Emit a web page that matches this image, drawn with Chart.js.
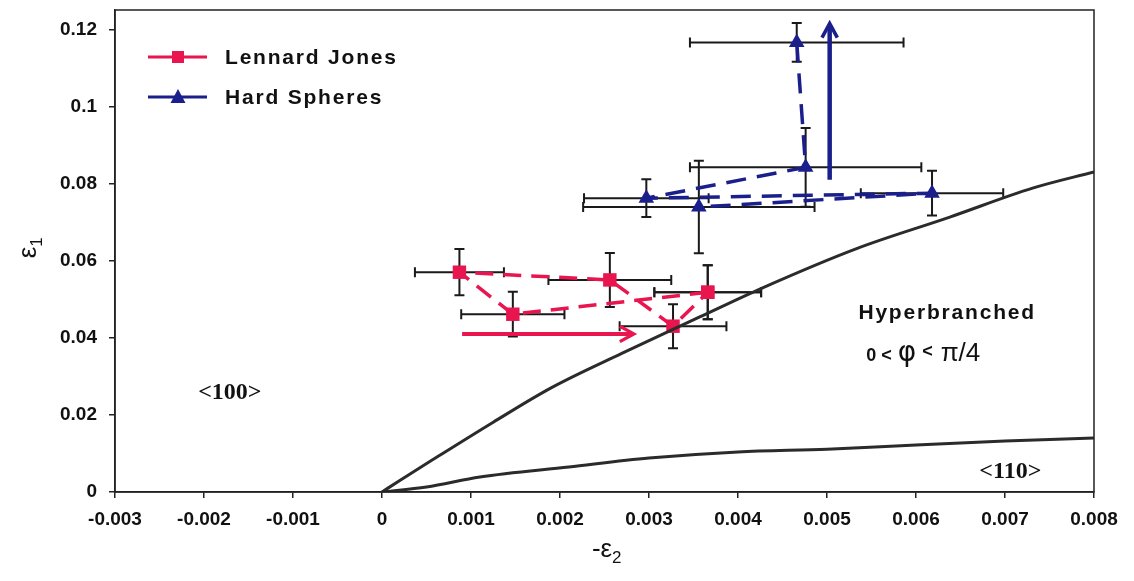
<!DOCTYPE html>
<html>
<head>
<meta charset="utf-8">
<script src="https://cdn.jsdelivr.net/npm/chart.js@4/dist/chart.umd.min.js"></script>
<style>
  html, body { margin: 0; padding: 0; background: #fff; }
  #wrap { width: 1134px; height: 581px; }
</style>
</head>
<body>
<div id="wrap"><canvas id="chart" width="1134" height="581"></canvas></div>
<script>
// Lennard Jones points, listed in the order the dashed line joins them (closed loop)
const ljX = [0.00366, 0.00147, 0.00087, 0.00256, 0.00327, 0.00366];
const ljY = [0.0518, 0.0461, 0.0570, 0.0550, 0.0430, 0.0518];
const ljErrX = [0.0006, 0.00058, 0.0005, 0.00069, 0.0006, 0.0006];
const ljErrY = [0.007, 0.0058, 0.006, 0.007, 0.0057, 0.007];

// Hard Spheres points, in line order
const hsX = [0.00466, 0.00476, 0.00297, 0.00618, 0.00356];
const hsY = [0.1166, 0.0842, 0.0762, 0.0775, 0.0739];
const hsErrX = [0.0012, 0.0013, 0.0007, 0.0008, 0.0013];
const hsErrY = [0.005, 0.0102, 0.0049, 0.0058, 0.012];

// boundary curves
const upperX = [0, 0.0002, 0.0006, 0.00125, 0.0019, 0.0027, 0.00357, 0.00427, 0.00534, 0.00638, 0.00731, 0.008];
const upperY = [0, 0.003, 0.0088, 0.0181, 0.027, 0.036, 0.0454, 0.0529, 0.0632, 0.0713, 0.0788, 0.083];
const lowerX = [0, 0.0005, 0.0011, 0.0021, 0.003, 0.004, 0.005, 0.006, 0.007, 0.008];
const lowerY = [0, 0.0013, 0.0039, 0.0065, 0.0088, 0.0104, 0.0111, 0.0122, 0.0132, 0.014];

// arrows [from, to]
const redArrowX = [0.0009, 0.00283];
const redArrowY = [0.041, 0.041];
const blueArrowX = [0.00503, 0.00503];
const blueArrowY = [0.081, 0.1215];

const xTicks = [-0.003, -0.002, -0.001, 0, 0.001, 0.002, 0.003, 0.004, 0.005, 0.006, 0.007, 0.008];

const RED = '#E8154F';
const BLUE = '#1B1F8C';
const CURVE = '#2b2b2b';

function pts(xs, ys) {
  return xs.map((x, i) => ({ x: x, y: ys[i] }));
}

const errorBars = {
  id: 'errorBars',
  beforeDatasetsDraw(chart) {
    const ctx = chart.ctx;
    const sx = chart.scales.x, sy = chart.scales.y;
    const sets = [[ljX, ljY, ljErrX, ljErrY], [hsX, hsY, hsErrX, hsErrY]];
    ctx.save();
    ctx.strokeStyle = '#1a1a1a';
    ctx.lineWidth = 2;
    sets.forEach(([xs, ys, ex, ey]) => {
      xs.forEach((x, i) => {
        const px = sx.getPixelForValue(x), py = sy.getPixelForValue(ys[i]);
        const l = sx.getPixelForValue(x - ex[i]), r = sx.getPixelForValue(x + ex[i]);
        const t = sy.getPixelForValue(ys[i] + ey[i]), b = sy.getPixelForValue(ys[i] - ey[i]);
        ctx.beginPath();
        ctx.moveTo(l, py); ctx.lineTo(r, py);
        ctx.moveTo(l, py - 5); ctx.lineTo(l, py + 5);
        ctx.moveTo(r, py - 5); ctx.lineTo(r, py + 5);
        ctx.moveTo(px, t); ctx.lineTo(px, b);
        ctx.moveTo(px - 5, t); ctx.lineTo(px + 5, t);
        ctx.moveTo(px - 5, b); ctx.lineTo(px + 5, b);
        ctx.stroke();
      });
    });
    ctx.restore();
  }
};

function arrow(ctx, x1, y1, x2, y2, color, w) {
  const a = Math.atan2(y2 - y1, x2 - x1);
  ctx.save();
  ctx.strokeStyle = color;
  ctx.lineWidth = w;
  ctx.lineCap = 'butt';
  ctx.beginPath();
  ctx.moveTo(x1, y1);
  ctx.lineTo(x2 - Math.cos(a) * 3, y2 - Math.sin(a) * 3);
  ctx.stroke();
  ctx.lineJoin = 'miter';
  ctx.lineWidth = w * 0.8;
  const hl = 16, hw = 0.5;
  ctx.beginPath();
  ctx.moveTo(x2 - hl * Math.cos(a - hw), y2 - hl * Math.sin(a - hw));
  ctx.lineTo(x2, y2);
  ctx.lineTo(x2 - hl * Math.cos(a + hw), y2 - hl * Math.sin(a + hw));
  ctx.stroke();
  ctx.restore();
}

function spaced(ctx, text, x, y, sp) {
  ctx.letterSpacing = sp + 'px';
  ctx.fillText(text, x, y);
  ctx.letterSpacing = '0px';
}

const extras = {
  id: 'extras',
  afterDatasetsDraw(chart) {
    const ctx = chart.ctx;
    const sx = chart.scales.x, sy = chart.scales.y;
    const a = chart.chartArea;
    ctx.save();
    // frame
    ctx.strokeStyle = '#222';
    ctx.lineWidth = 1.5;
    ctx.strokeRect(a.left, a.top, a.right - a.left, a.bottom - a.top);

    arrow(ctx, sx.getPixelForValue(redArrowX[0]), sy.getPixelForValue(redArrowY[0]),
      sx.getPixelForValue(redArrowX[1]), sy.getPixelForValue(redArrowY[1]), RED, 4);
    arrow(ctx, sx.getPixelForValue(blueArrowX[0]), sy.getPixelForValue(blueArrowY[0]),
      sx.getPixelForValue(blueArrowX[1]), sy.getPixelForValue(blueArrowY[1]), BLUE, 4.5);

    // legend
    const lx = a.left + 33;
    const rows = [['Lennard Jones', RED, 'rect', 47], ['Hard Spheres', BLUE, 'triangle', 87]];
    rows.forEach(([label, color, shape, yy]) => {
      const cy = a.top + yy;
      ctx.strokeStyle = color;
      ctx.lineWidth = 3;
      ctx.beginPath(); ctx.moveTo(lx, cy); ctx.lineTo(lx + 59, cy); ctx.stroke();
      ctx.fillStyle = color;
      const mx = lx + 30;
      if (shape === 'rect') {
        ctx.fillRect(mx - 6, cy - 6, 12, 12);
      } else {
        ctx.beginPath();
        ctx.moveTo(mx, cy - 8); ctx.lineTo(mx + 7.5, cy + 6); ctx.lineTo(mx - 7.5, cy + 6);
        ctx.closePath(); ctx.fill();
      }
      ctx.fillStyle = '#111';
      ctx.font = 'bold 21px "Liberation Sans", Arial, sans-serif';
      ctx.textAlign = 'left';
      ctx.textBaseline = 'middle';
      spaced(ctx, label, lx + 77, cy + 1, 1.8);
    });

    // region labels
    ctx.fillStyle = '#111';
    ctx.textAlign = 'center';
    ctx.textBaseline = 'middle';
    ctx.font = 'bold 24px "Liberation Serif", "Times New Roman", serif';
    ctx.fillText('<100>', sx.getPixelForValue(-0.00171), sy.getPixelForValue(0.0257));
    ctx.fillText('<110>', sx.getPixelForValue(0.00706), sy.getPixelForValue(0.0052));

    ctx.font = 'bold 21px "Liberation Sans", Arial, sans-serif';
    spaced(ctx, 'Hyperbranched', sx.getPixelForValue(0.00635), sy.getPixelForValue(0.0464), 1.8);

    // 0 < φ < π/4
    let x0 = sx.getPixelForValue(0.00544);
    const yb = sy.getPixelForValue(0.0340);
    ctx.textAlign = 'left';
    ctx.textBaseline = 'alphabetic';
    const parts = [
      ['0 <', 'bold 18px "Liberation Sans", Arial, sans-serif', 0, 6],
      ['φ', '28px "DejaVu Sans", sans-serif', 0, 6],
      ['<', 'bold 18px "Liberation Sans", Arial, sans-serif', -4, 8],
      ['π/4', '26px "Liberation Sans", Arial, sans-serif', 0, 0]
    ];
    parts.forEach(([t, f, dy, gap]) => {
      ctx.font = f;
      ctx.fillText(t, x0, yb + dy);
      x0 += ctx.measureText(t).width + gap;
    });

    // axis titles
    ctx.font = '26px "Liberation Sans", Arial, sans-serif';
    ctx.textBaseline = 'alphabetic';
    const tx = (a.left + a.right) / 2 + 2;
    ctx.textAlign = 'left';
    const w1 = ctx.measureText('-ε').width;
    ctx.fillText('-ε', tx - (w1 + 9) / 2, 557);
    ctx.font = '17px "Liberation Sans", Arial, sans-serif';
    ctx.fillText('2', tx - (w1 + 9) / 2 + w1, 563);

    ctx.translate(36, 248);
    ctx.rotate(-Math.PI / 2);
    ctx.font = '26px "Liberation Sans", Arial, sans-serif';
    const w2 = ctx.measureText('ε').width;
    ctx.fillText('ε', -(w2 + 9) / 2, 0);
    ctx.font = '17px "Liberation Sans", Arial, sans-serif';
    ctx.fillText('1', -(w2 + 9) / 2 + w2, 6);
    ctx.restore();
  }
};

new Chart(document.getElementById('chart'), {
  type: 'scatter',
  data: {
    datasets: [
      {
        label: 'upper',
        data: pts(upperX, upperY),
        showLine: true,
        borderColor: CURVE,
        borderWidth: 3,
        pointRadius: 0,
        cubicInterpolationMode: 'monotone'
      },
      {
        label: 'lower',
        data: pts(lowerX, lowerY),
        showLine: true,
        borderColor: CURVE,
        borderWidth: 3,
        pointRadius: 0,
        cubicInterpolationMode: 'monotone'
      },
      {
        label: 'Lennard Jones',
        data: pts(ljX, ljY),
        showLine: true,
        borderColor: RED,
        backgroundColor: RED,
        borderWidth: 3.5,
        borderDash: [18, 10],
        pointStyle: 'rect',
        pointRadius: 9.5,
        pointBorderWidth: 0
      },
      {
        label: 'Hard Spheres',
        data: pts(hsX, hsY),
        showLine: true,
        borderColor: BLUE,
        backgroundColor: BLUE,
        borderWidth: 3.5,
        borderDash: [20, 11],
        pointStyle: 'triangle',
        pointRadius: 9,
        pointBorderWidth: 0
      }
    ]
  },
  options: {
    responsive: false,
    animation: false,
    layout: { padding: { top: 10, right: 40, left: 0, bottom: 0 } },
    plugins: {
      legend: { display: false },
      tooltip: { enabled: false }
    },
    scales: {
      x: {
        type: 'linear',
        min: -0.003,
        max: 0.008,
        afterFit: (s) => { s.height = 89; s.paddingLeft = 0; s.paddingRight = 0; },
        afterBuildTicks: (s) => { s.ticks = xTicks.map(v => ({ value: v })); },
        grid: { drawOnChartArea: false, drawTicks: true, tickLength: 6, color: '#222', lineWidth: 1.5 },
        border: { display: true, color: '#222', width: 1.5 },
        ticks: {
          color: '#111',
          padding: 10,
          maxRotation: 0,
          font: { family: '"Liberation Sans", Arial, sans-serif', size: 19, weight: 'bold' },
          callback: (v) => Math.abs(v) < 1e-9 ? '0' : v.toFixed(3)
        }
      },
      y: {
        type: 'linear',
        min: 0,
        max: 0.125,
        afterFit: (s) => { s.width = 115; s.paddingTop = 0; s.paddingBottom = 0; },
        grid: { drawOnChartArea: false, drawTicks: true, tickLength: 6, color: '#222', lineWidth: 1.5 },
        border: { display: true, color: '#222', width: 1.5 },
        ticks: {
          stepSize: 0.02,
          includeBounds: false,
          color: '#111',
          padding: 12,
          font: { family: '"Liberation Sans", Arial, sans-serif', size: 19, weight: 'bold' },
          callback: (v) => String(parseFloat(v.toFixed(3)))
        }
      }
    }
  },
  plugins: [errorBars, extras]
});
</script>
</body>
</html>
